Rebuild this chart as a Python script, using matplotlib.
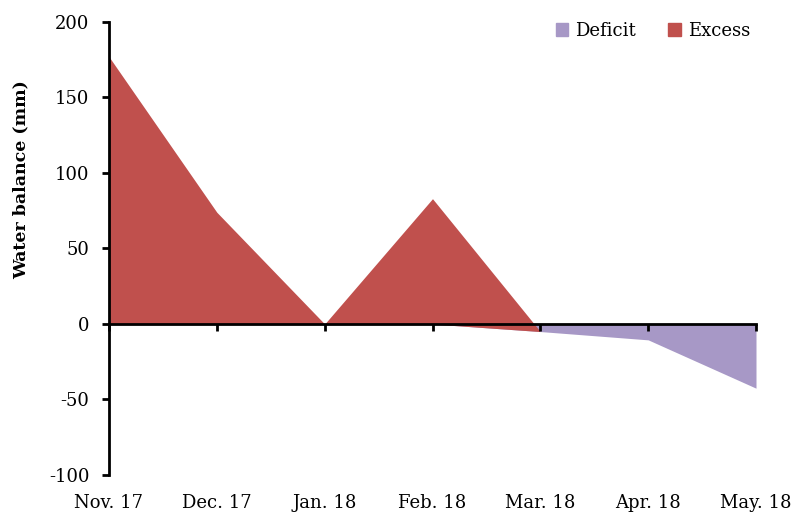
import matplotlib
matplotlib.use("Agg")
import matplotlib.pyplot as plt
import matplotlib.transforms as mtransforms
from matplotlib.patches import Patch
import numpy as np

months = ["Nov. 17", "Dec. 17", "Jan. 18", "Feb. 18", "Mar. 18", "Apr. 18", "May. 18"]
# stacked area: excess sits on top of the deficit line
deficit = [0, 0, 0, 0, -5, -10.5, -42.5]
excess = [177, 74, 0, 83, 0, 0, 0]

DEFICIT_COLOR = "#A798C6"
EXCESS_COLOR = "#C0504D"

plt.rcParams["font.family"] = ["DejaVu Serif"]
plt.rcParams["axes.unicode_minus"] = False

fig = plt.figure(figsize=(7.94, 5.17), dpi=100)
ax = fig.add_axes([109 / 794, 1 - 475 / 517, (756 - 109) / 794, (475 - 22) / 517])

x = np.arange(len(months))
d = np.array(deficit, dtype=float)
e = np.array(excess, dtype=float)
ax.fill_between(x, 0, d, color=DEFICIT_COLOR, linewidth=0)
ax.fill_between(x[:5], d[:5], d[:5] + e[:5], color=EXCESS_COLOR, linewidth=0)

ax.set_xlim(0, len(months) - 1)
ax.set_ylim(-100, 200)
ax.set_yticks(np.arange(-100, 201, 50))

for s in ("top", "right"):
    ax.spines[s].set_visible(False)
ax.spines["bottom"].set_position(("data", 0))
ax.spines["bottom"].set_linewidth(2.0)
ax.spines["left"].set_linewidth(2.0)
ax.spines["bottom"].set_zorder(5)

ax.tick_params(axis="y", direction="out", length=5, width=2, labelsize=13, pad=9)
ax.tick_params(axis="x", direction="out", length=5, width=2, labelbottom=False)
ax.set_xticks(x)

trans = mtransforms.blended_transform_factory(ax.transData, ax.transAxes)
for i, m in enumerate(months):
    ax.text(i, -0.062, m, transform=trans, ha="center", va="center", fontsize=13)

# label sits above the axes centre, as in the original
fig.text(21 / 794, 1 - 180 / 517, "Water balance (mm)", rotation=90, ha="center", va="center",
         fontsize=12.5, fontweight="bold")

handles = [Patch(color=DEFICIT_COLOR, label="Deficit"), Patch(color=EXCESS_COLOR, label="Excess")]
fig.legend(handles=handles, loc="center right", bbox_to_anchor=(759 / 794, 1 - 31 / 517),
           ncol=2, frameon=False, fontsize=13, handlelength=0.7, handleheight=0.7,
           handletextpad=0.4, columnspacing=1.75, borderpad=0)

fig.savefig("out.png", dpi=100)
